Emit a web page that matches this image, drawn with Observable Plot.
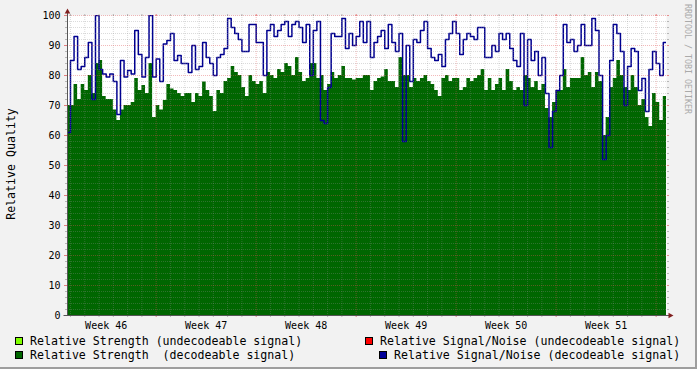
<!DOCTYPE html>
<html>
<head>
<meta charset="utf-8">
<script src="https://cdn.jsdelivr.net/npm/d3@7"></script>
<script src="https://cdn.jsdelivr.net/npm/@observablehq/plot@0.6"></script>
<style>
  html, body { margin: 0; padding: 0; background: #f2f2f2; }
  #wrap { position: relative; width: 697px; height: 369px; background: #f2f2f2; overflow: hidden; }
  #chart { position: absolute; left: 0; top: 0; }
  #overlay { position: absolute; left: 0; top: 0; pointer-events: none; }
  #overlay text { font-family: "DejaVu Sans Mono", monospace; white-space: pre; }
</style>
</head>
<body>
<div id="wrap">
  <div id="chart"></div>
  <svg id="overlay" width="697" height="369"></svg>
</div>
<script>
// ---- data (6-hour samples) ----
const startHour = 18;      // hours after the start of week 46
const stepHours = 6;
const strength = [
  70,70,77,72,77,75,80,74,84,85,73,72,72,68.5,65,68.5,70,70,71,79,75,76.7,74,84,66,70,68.5,71.7,77,75.5,75,74,
  73,74,74,71,74,73,77.8,75,73,68,75,74,78,79,83,81,80,76,73,80,78,77,78,74,81,80,79,82,81,84,83,80,86,81,
  78,79,84,84,79,80,75,77,81,79,80,83,79,79,78.5,79,79,80,80,75,78,79,79.5,82,78,78,76,86,80,80,76,79,78,79,
  80,78,77,75,73,79,80,78,79,79,75,76,79,78,79,80,82,75,79,75,77,79,75,82,78,75,76,75,80,79,76,78,75,
  77,69,66,71,75,75,82,76,79,79,79,86,80,81,76,81,78,60,66,76,79,85,80,76,75,80,76,70,72,66,63,74,71,65,73
];
const snr = [
  61,85,93,82,83,86,91,72,100,82,80.5,79.5,80.5,78,67,85,79.5,81.7,80.5,95,87,79.5,86,100,79.5,85.5,78,90.5,91.7,94,85,86.7,
  84,84,81,90,82,83,91,86,84,80,86,87,89,99,96,94,92,88,88,97,97,91,91,80,95,97,93,95,97,98,93,97,98,96,
  91,97,80,95,98,65,64,76,94,93,93,99,89,94,90,93,98,91,98,86,91,93,95,89,97,91,88,94,58,90,78,92,91,95,
  98,89,86,85,87,83,92,94,98,94,87,92,94,93,92,96,96,86,86,90,88,94,92,94,89,85,83,94,70,92,85,88,80,
  86,74,56,68,75,80,97,91,92,88,90,97,90,90,99,95,80,52,60,85,97,94,88,70,83,89,88,75,79,68,82,88,84,80,91
];
const weekLabels = ["Week 46", "Week 47", "Week 48", "Week 49", "Week 50", "Week 51"];
const yLabels = [0, 10, 20, 30, 40, 50, 60, 70, 80, 90, 100];
const legendItems = [
  "Relative Strength (undecodeable signal)",
  "Relative Signal/Noise (undecodeable signal)",
  "Relative Strength  (decodeable signal)",
  "Relative Signal/Noise (decodeable signal)"
];
const legendColors = ["#80ff00", "#ff0000", "#006600", "#000099"];

// ---- derived tables ----
const rows = strength.map((s, i) => ({t: startHour + stepHours * i, s, n: snr[i]}));
rows.push({t: startHour + stepHours * strength.length, s: strength[strength.length - 1], n: snr[snr.length - 1]});

const hoursPerWeek = 168;
const weekStarts = d3.range(1, 7).map(k => k * hoursPerWeek);
const weekMids = weekLabels.map((_, k) => k * hoursPerWeek + hoursPerWeek / 2);
const dayLines = d3.range(24, 1026, 24).filter(t => t % hoursPerWeek !== 0);
const yMinor = d3.range(2, 100, 2).filter(v => v % 10 !== 0);

const minorCol = "rgb(143,143,143)";
const majorCol = "rgb(222,79,79)";
const tickOnly = (anchor, size, col, op) => ({anchor, tickSize: size, tickFormat: () => "", stroke: col, strokeOpacity: op, label: null});

const chart = Plot.plot({
  width: 697,
  height: 335,
  marginLeft: 67,
  marginRight: 31,
  marginTop: 15,
  marginBottom: 20,
  style: {background: "transparent", fontFamily: "'DejaVu Sans Mono', monospace", fontSize: "10px", color: "#000", overflow: "visible"},
  x: {type: "linear", domain: [19, 1025.4], label: null},
  y: {domain: [0, 100], label: null},
  marks: [
    Plot.frame({fill: "white", stroke: "none"}),
    Plot.areaY(rows, {x: "t", y: "s", curve: "step-after", fill: "#006600", clip: true}),
    Plot.lineY(rows, {x: "t", y: "n", curve: "step-after", stroke: "#000090", strokeWidth: 1.5, clip: true}),
    Plot.gridY(yMinor, {stroke: minorCol, strokeOpacity: 0.32, strokeDasharray: "1,1"}),
    Plot.gridX(dayLines, {stroke: minorCol, strokeOpacity: 0.32, strokeDasharray: "1,1"}),
    Plot.gridY(yLabels, {stroke: majorCol, strokeOpacity: 0.4, strokeDasharray: "1,1"}),
    Plot.gridX(weekStarts, {stroke: majorCol, strokeOpacity: 0.4, strokeDasharray: "1,1"}),
    Plot.axisY(yMinor, tickOnly("left", 2, minorCol, 0.6)),
    Plot.axisY(yMinor, tickOnly("right", 2, minorCol, 0.6)),
    Plot.axisY(yLabels, tickOnly("left", 3, majorCol, 0.7)),
    Plot.axisY(yLabels, tickOnly("right", 2, majorCol, 0.6)),
    Plot.axisX(dayLines, tickOnly("bottom", 2, minorCol, 0.6)),
    Plot.axisX(dayLines, tickOnly("top", 2, minorCol, 0.6)),
    Plot.axisX(weekStarts, tickOnly("bottom", 2, majorCol, 0.7)),
    Plot.axisX(weekStarts, tickOnly("top", 2, majorCol, 0.7)),
    Plot.axisY(yLabels, {anchor: "left", tickSize: 0, tickPadding: 7, tickFormat: d => String(d), fill: "#000", label: null}),
    Plot.axisX(weekMids, {anchor: "bottom", tickSize: 0, tickPadding: 6, tickFormat: d => weekLabels[weekMids.indexOf(d)], fill: "#000", label: null})
  ]
});
document.getElementById("chart").appendChild(chart);

// ---- axis lines and arrows (from the plot's own scales) ----
const xr = chart.scale("x").range;
const yr = chart.scale("y").range;
const svg = d3.select(chart);
const x0 = xr[0] + 0.5, x1 = xr[1], yb = yr[0] + 0.5, yt = yr[1];
const ax = svg.append("g");
ax.append("line").attr("x1", x0).attr("x2", x0).attr("y1", yb).attr("y2", yt - 3)
  .attr("stroke", "#555").attr("stroke-width", 1);
ax.append("line").attr("x1", x0 - 4).attr("x2", x1 + 4).attr("y1", yb).attr("y2", yb)
  .attr("stroke", "#555").attr("stroke-width", 1);
ax.append("path").attr("d", `M${x0 - 2.8},${yt - 1.5}L${x0 + 2.8},${yt - 1.5}L${x0},${yt - 6.5}Z`).attr("fill", "#801f1f");
ax.append("path").attr("d", `M${x1 + 2.5},${yb - 2.8}L${x1 + 2.5},${yb + 2.8}L${x1 + 7.5},${yb}Z`).attr("fill", "#801f1f");

// ---- overlay: y title, watermark, legend, frame shading ----
const ov = d3.select("#overlay");
ov.append("text").attr("transform", "translate(15,164) rotate(-90)").attr("text-anchor", "middle")
  .attr("font-size", "11.6px").attr("fill", "#000").text("Relative Quality");
ov.append("text").attr("transform", "translate(685,4) rotate(90)").attr("text-anchor", "start")
  .attr("font-size", "8.3px").attr("fill", "#aaaaaa").text("RRDTOOL / TOBI OETIKER");

const legendPos = [
  {sx: 15, tx: 30, y: 345},
  {sx: 365, tx: 380, y: 345},
  {sx: 15, tx: 30, y: 359},
  {sx: 379, tx: 394, y: 359}
];
legendItems.forEach((label, i) => {
  const p = legendPos[i];
  ov.append("rect").attr("x", p.sx + 0.5).attr("y", p.y - 7.5).attr("width", 7).attr("height", 7)
    .attr("fill", legendColors[i]).attr("stroke", "#000").attr("stroke-width", 1);
  ov.append("text").attr("x", p.tx).attr("y", p.y).attr("font-size", "11.6px").attr("fill", "#000").text(label);
});
ov.append("rect").attr("x", 0).attr("y", 367).attr("width", 697).attr("height", 2).attr("fill", "#9e9e9e");
ov.append("rect").attr("x", 695).attr("y", 0).attr("width", 2).attr("height", 369).attr("fill", "#9e9e9e");
</script>
</body>
</html>
